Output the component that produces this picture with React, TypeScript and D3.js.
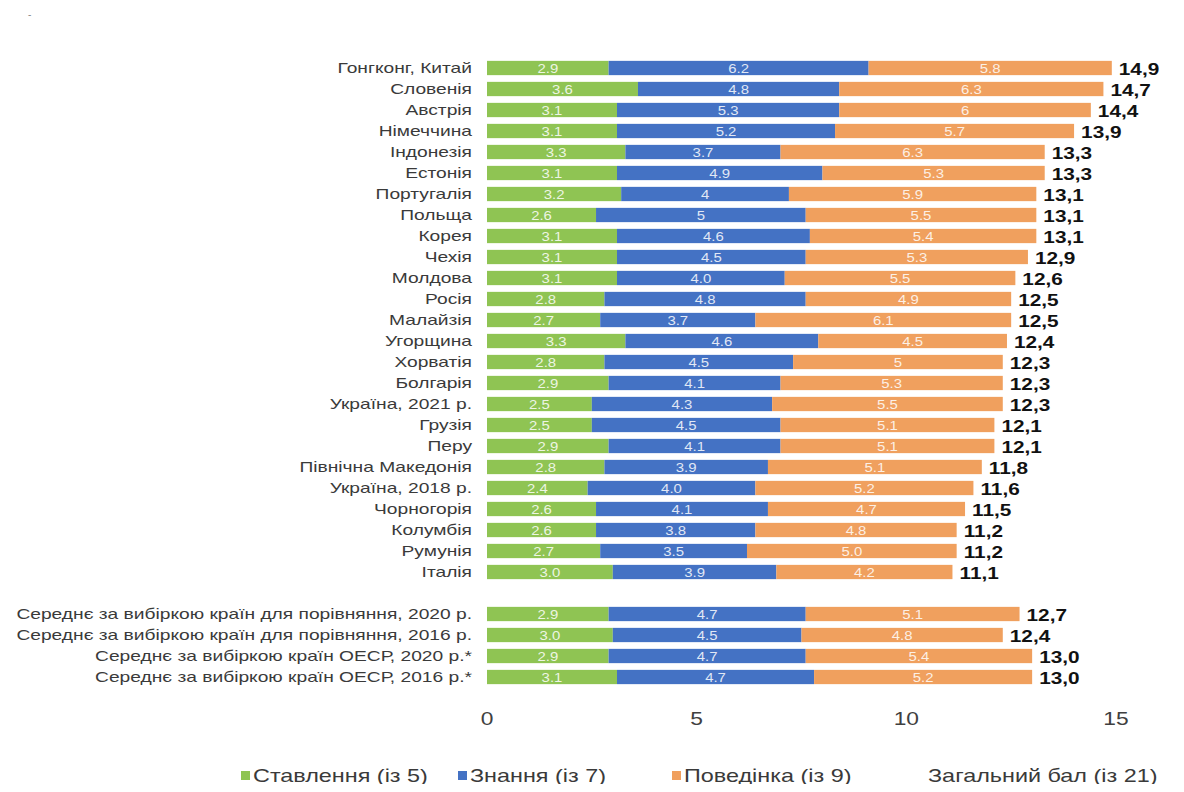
import React from 'react';
import * as d3 from 'd3';

// categories top to bottom, null = empty gap row
const categories = [
  'Гонгконг, Китай', 'Словенія', 'Австрія', 'Німеччина', 'Індонезія', 'Естонія',
  'Португалія', 'Польща', 'Корея', 'Чехія', 'Молдова', 'Росія', 'Малайзія',
  'Угорщина', 'Хорватія', 'Болгарія', 'Україна, 2021 р.', 'Грузія', 'Перу',
  'Північна Македонія', 'Україна, 2018 р.', 'Чорногорія', 'Колумбія', 'Румунія', 'Італія',
  null,
  'Середнє за вибіркою країн для порівняння, 2020 р.',
  'Середнє за вибіркою країн для порівняння, 2016 р.',
  'Середнє за вибіркою країн ОЕСР, 2020 р.*',
  'Середнє за вибіркою країн ОЕСР, 2016 р.*',
];

// segment labels as printed in the source
const attitude = ['2.9', '3.6', '3.1', '3.1', '3.3', '3.1', '3.2', '2.6', '3.1', '3.1', '3.1', '2.8', '2.7',
  '3.3', '2.8', '2.9', '2.5', '2.5', '2.9', '2.8', '2.4', '2.6', '2.6', '2.7', '3.0', null,
  '2.9', '3.0', '2.9', '3.1'];
const knowledge = ['6.2', '4.8', '5.3', '5.2', '3.7', '4.9', '4', '5', '4.6', '4.5', '4.0', '4.8', '3.7',
  '4.6', '4.5', '4.1', '4.3', '4.5', '4.1', '3.9', '4.0', '4.1', '3.8', '3.5', '3.9', null,
  '4.7', '4.5', '4.7', '4.7'];
const behaviour = ['5.8', '6.3', '6', '5.7', '6.3', '5.3', '5.9', '5.5', '5.4', '5.3', '5.5', '4.9', '6.1',
  '4.5', '5', '5.3', '5.5', '5.1', '5.1', '5.1', '5.2', '4.7', '4.8', '5.0', '4.2', null,
  '5.1', '4.8', '5.4', '5.2'];
const totals = ['14,9', '14,7', '14,4', '13,9', '13,3', '13,3', '13,1', '13,1', '13,1', '12,9', '12,6', '12,5', '12,5',
  '12,4', '12,3', '12,3', '12,3', '12,1', '12,1', '11,8', '11,6', '11,5', '11,2', '11,2', '11,1', null,
  '12,7', '12,4', '13,0', '13,0'];

const xTicks = [0, 5, 10, 15];
const seriesNames = ['Ставлення (із 5)', 'Знання (із 7)', 'Поведінка (із 9)', 'Загальний бал (із 21)'];
const colors = ['#8fc453', '#4472c4', '#f0a05e'];

const W = 1184;
const H = 792;
const font = 'Arial, "Liberation Sans", sans-serif';

// the source picture is stretched sideways, so text gets a horizontal scale
function T({ x, y, sx, children, ...rest }: any) {
  return (
    <text transform={`translate(${x},${y}) scale(${sx},1)`} dy="0.35em" {...rest}>{children}</text>
  );
}

export default function App() {
  const x = d3.scaleLinear().domain([0, 15]).range([487, 1116]);
  const y = d3.scaleBand<number>()
    .domain(d3.range(categories.length))
    .range([57.5, 57.5 + categories.length * 21])
    .paddingInner(0.32)
    .paddingOuter(0.16);

  const rows = categories.map((c, i) => {
    if (c === null) return null;
    const labels = [attitude[i], knowledge[i], behaviour[i]] as string[];
    const vals = labels.map(v => +v);
    let acc = 0;
    const segs = vals.map((v, k) => {
      const s = { x0: acc, x1: acc + v, label: labels[k], color: colors[k] };
      acc += v;
      return s;
    });
    return { name: c, segs, end: acc, total: totals[i], i };
  }).filter(r => r !== null) as any[];

  const legendX = [241, 458, 672, 928];

  return (
    <svg width={W} height={H} style={{ display: 'block', margin: '-8px', background: '#fff' }} fontFamily={font}>
      <text x={28} y={18} fontSize={10} fill="#888">-</text>
      {rows.map(r => {
        const y0 = y(r.i) as number;
        const bh = y.bandwidth();
        const cy = y0 + bh / 2;
        return (
          <g key={r.i}>
            <T x={472} y={cy} sx={1.28} textAnchor="end" fontSize={15} fill="#3a3a3a">{r.name}</T>
            {r.segs.map((s: any, k: number) => (
              <g key={k}>
                <rect x={x(s.x0)} y={y0} width={x(s.x1) - x(s.x0)} height={bh} fill={s.color} />
                <T x={(x(s.x0) + x(s.x1)) / 2} y={cy} sx={1.15} textAnchor="middle"
                  fontSize={13} fill="#ffffff" fillOpacity={0.85}>{s.label}</T>
              </g>
            ))}
            <T x={x(r.end) + 7} y={cy + 1} sx={1.3} fontSize={16} fontWeight="bold" fill="#111">{r.total}</T>
          </g>
        );
      })}
      {xTicks.map(t => (
        <T key={t} x={x(t)} y={718} sx={1.2} textAnchor="middle" fontSize={19} fill="#404040">{t}</T>
      ))}
      {seriesNames.map((n, k) => (
        <g key={n}>
          {k < 3 && <rect x={legendX[k]} y={771} width={9} height={9} fill={colors[k]} />}
          <T x={legendX[k] + (k < 3 ? 12 : 0)} y={776} sx={1.3} fontSize={18} fill="#3a3a3a">{n}</T>
        </g>
      ))}
    </svg>
  );
}
